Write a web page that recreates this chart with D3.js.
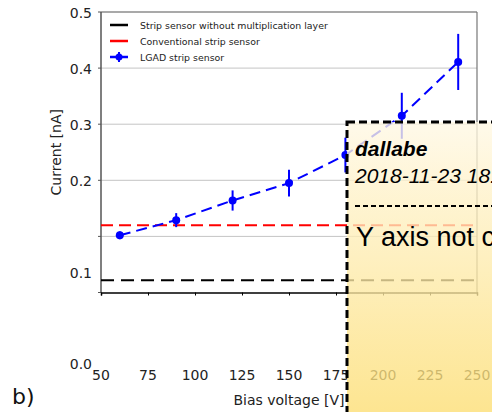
<!DOCTYPE html>
<html><head><meta charset="utf-8">
<script src="https://cdn.jsdelivr.net/npm/d3@7"></script>
<style>html,body{margin:0;padding:0;background:#fff;overflow:hidden}svg{display:block}</style>
</head><body>
<script>
// ---- data ----
const voltages = [60, 90, 120, 150, 180, 210, 240];
const lgadCurrent = [0.102, 0.129, 0.164, 0.195, 0.245, 0.315, 0.411];
const lgadError = [0.007, 0.0125, 0.018, 0.024, 0.031, 0.041, 0.05];
const stripNoGain = 0.022;
const conventional = 0.120;
const xTicks = [50, 75, 100, 125, 150, 175, 200, 225, 250];
const yTicks = [0.0, 0.1, 0.2, 0.3, 0.4, 0.5];
const yTickLabels = ["0.0", "0.1", "0.2", "0.3", "0.4", "0.5"];
const legendLabels = ["Strip sensor without multiplication layer", "Conventional strip sensor", "LGAD strip sensor"];
const noteAuthor = "dallabe";
const noteDate = "2018-11-23 18:42";
const noteText = "Y axis not consistent";

const W = 492, H = 412;
const L = 101, R = 477, T = 12, B = 292.5;
const font = "DejaVu Sans, Verdana, sans-serif";

const svg = d3.select("body").append("svg").attr("width", W).attr("height", H);
const x = d3.scaleLinear().domain([50, 250]).range([L, R]);
const y = d3.scaleLinear().domain([0, 0.5]).range([B, T]);
// tick labels of the reference are not placed consistently with the data scale
const yLabel = d3.scaleLinear().domain([0, 0.1, 0.2, 0.5]).range([364, 273, 181, 13]);

// gridlines
svg.append("g").selectAll("line").data(yTicks.filter(v => v > 0 && v < 0.5)).join("line")
  .attr("x1", L).attr("x2", R).attr("y1", d => y(d)).attr("y2", d => y(d))
  .attr("stroke", "#c4c4c4").attr("stroke-width", 1);

// frame
svg.append("line").attr("x1", L).attr("x2", R).attr("y1", T).attr("y2", T).attr("stroke", "#555").attr("stroke-width", 1.2);
svg.append("line").attr("x1", R).attr("x2", R).attr("y1", T).attr("y2", B).attr("stroke", "#777").attr("stroke-width", 1.2);
svg.append("line").attr("x1", L).attr("x2", L).attr("y1", T).attr("y2", B).attr("stroke", "#555").attr("stroke-width", 1.5);
// left ticks
svg.append("g").selectAll("line").data(yTicks).join("line")
  .attr("x1", L - 3).attr("x2", L).attr("y1", d => y(d)).attr("y2", d => y(d))
  .attr("stroke", "#555").attr("stroke-width", 1);

// x axis
const xAxis = d3.axisBottom(x).tickValues(xTicks).tickSize(3).tickFormat("");
const gx = svg.append("g").attr("transform", `translate(0,${B})`).call(xAxis);
gx.select(".domain").attr("stroke", "#000").attr("stroke-width", 1.5);
gx.selectAll(".tick line").attr("stroke", "#000");
svg.append("g").selectAll("text").data(xTicks).join("text")
  .attr("x", d => x(d)).attr("y", 380).attr("text-anchor", "middle")
  .attr("font-family", font).attr("font-size", 14).attr("fill", "#222").text(d => d);

// y tick labels
svg.append("g").selectAll("text").data(yTicks).join("text")
  .attr("x", 92).attr("y", d => yLabel(d) + 5).attr("text-anchor", "end")
  .attr("font-family", font).attr("font-size", 14).attr("fill", "#222")
  .text((d, i) => yTickLabels[i]);

// axis titles
svg.append("text").attr("x", (L + R) / 2).attr("y", 405).attr("text-anchor", "middle")
  .attr("font-family", font).attr("font-size", 14).attr("fill", "#222").text("Bias voltage [V]");
svg.append("text").attr("transform", `translate(61,${(T + B) / 2}) rotate(-90)`).attr("text-anchor", "middle")
  .attr("font-family", font).attr("font-size", 14).attr("fill", "#222").text("Current  [nA]");
svg.append("text").attr("x", 12).attr("y", 404)
  .attr("font-family", font).attr("font-size", 22).attr("fill", "#111").text("b)");

// reference lines
svg.append("line").attr("x1", L).attr("x2", R).attr("y1", y(stripNoGain)).attr("y2", y(stripNoGain))
  .attr("stroke", "#000").attr("stroke-width", 2).attr("stroke-dasharray", "13,7");
svg.append("line").attr("x1", L).attr("x2", R).attr("y1", y(conventional)).attr("y2", y(conventional))
  .attr("stroke", "#ff0000").attr("stroke-width", 2).attr("stroke-dasharray", "12,6");

// LGAD series
const pts = voltages.map((v, i) => ({v, c: lgadCurrent[i], e: lgadError[i]}));
svg.append("path").datum(pts)
  .attr("d", d3.line().x(d => x(d.v)).y(d => y(d.c)))
  .attr("fill", "none").attr("stroke", "#0000ff").attr("stroke-width", 2).attr("stroke-dasharray", "11,6");
svg.append("g").selectAll("line").data(pts).join("line")
  .attr("x1", d => x(d.v)).attr("x2", d => x(d.v))
  .attr("y1", d => y(d.c - d.e)).attr("y2", d => y(d.c + d.e))
  .attr("stroke", "#0000ff").attr("stroke-width", 2);
svg.append("g").selectAll("circle").data(pts).join("circle")
  .attr("cx", d => x(d.v)).attr("cy", d => y(d.c)).attr("r", 4).attr("fill", "#0000ff");

// legend
const lg = svg.append("g");
const legColors = ["#000", "#ff0000", "#0000ff"];
legendLabels.forEach((t, i) => {
  const yy = 25 + i * 16;
  lg.append("line").attr("x1", 110).attr("x2", 128).attr("y1", yy).attr("y2", yy)
    .attr("stroke", legColors[i]).attr("stroke-width", 2.5);
  if (i === 2) {
    lg.append("line").attr("x1", 119).attr("x2", 119).attr("y1", yy - 5).attr("y2", yy + 5)
      .attr("stroke", legColors[i]).attr("stroke-width", 2);
    lg.append("circle").attr("cx", 119).attr("cy", yy).attr("r", 3.5).attr("fill", legColors[i]);
  }
  lg.append("text").attr("x", 140).attr("y", yy + 3.5).attr("font-family", font).attr("font-size", 9.4)
    .attr("fill", "#222").text(t);
});

// sticky note overlay
const defs = svg.append("defs");
const grad = defs.append("linearGradient").attr("id", "noteGrad").attr("x1", 0).attr("x2", 0).attr("y1", 0).attr("y2", 1);
grad.append("stop").attr("offset", "0%").attr("stop-color", "#fff8e4");
grad.append("stop").attr("offset", "100%").attr("stop-color", "#fcda62");
const nx = 347, ny = 122;
svg.append("rect").attr("x", nx).attr("y", ny).attr("width", 200).attr("height", 330)
  .attr("fill", "url(#noteGrad)").attr("fill-opacity", 0.78);
svg.append("rect").attr("x", nx).attr("y", ny).attr("width", 200).attr("height", 330)
  .attr("fill", "none").attr("stroke", "#000").attr("stroke-width", 3).attr("stroke-dasharray", "8,4");
const nf = "Liberation Sans, Arial, sans-serif";
svg.append("text").attr("x", 355).attr("y", 156).attr("font-family", nf).attr("font-size", 21)
  .attr("font-weight", "bold").attr("font-style", "italic").attr("fill", "#000").text(noteAuthor);
svg.append("text").attr("x", 355).attr("y", 183).attr("font-family", nf).attr("font-size", 21)
  .attr("font-style", "italic").attr("fill", "#000").text(noteDate);
svg.append("line").attr("x1", 355).attr("x2", 500).attr("y1", 206).attr("y2", 206)
  .attr("stroke", "#000").attr("stroke-width", 2).attr("stroke-dasharray", "5,3");
svg.append("text").attr("x", 356).attr("y", 246).attr("font-family", nf).attr("font-size", 27)
  .attr("fill", "#000").text(noteText);
</script>
</body></html>
